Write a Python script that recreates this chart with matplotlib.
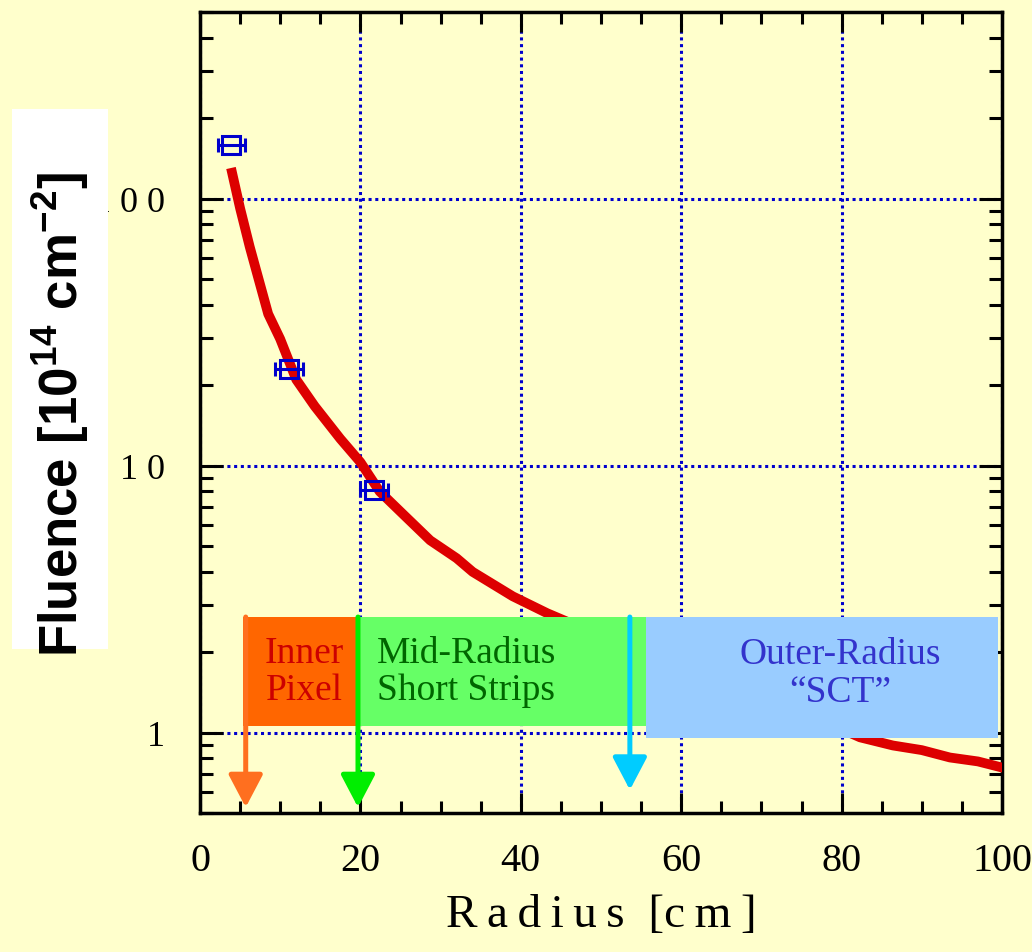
import matplotlib
matplotlib.use('Agg')
import matplotlib.pyplot as plt
from matplotlib.patches import Rectangle
from matplotlib.ticker import FixedLocator, LogLocator, MultipleLocator, NullFormatter, FixedFormatter

plt.rcParams['mathtext.fontset'] = 'custom'
plt.rcParams['mathtext.rm'] = 'Liberation Sans:bold'
plt.rcParams['mathtext.default'] = 'rm'

# fluence vs radius curve
radius = [4.0, 5.0, 6.2, 8.5, 10.0, 12.0, 14.3, 17.5, 20.0, 22.4, 25.5, 28.7, 32.0, 34.0,
          36.5, 39.0, 43.3, 50.0, 60.0, 70.0, 80.0, 82.3, 86.4, 90.0, 93.5, 97.0, 100.0]
fluence = [125, 92, 66, 37, 29.8, 21, 16.7, 12.6, 10.3, 8.0, 6.5, 5.25, 4.5, 4.0,
           3.6, 3.24, 2.8, 2.3, 1.7, 1.3, 1.03, 0.96, 0.895, 0.86, 0.807, 0.78, 0.74]

# measured points with radial error
meas_r = [3.9, 11.1, 21.7]
meas_f = [159, 23, 8.07]
meas_rerr = [1.7, 1.7, 1.7]

# detector regions
region_label = ['Inner\nPixel', 'Mid-Radius\nShort Strips', 'Outer-Radius\n\u201cSCT\u201d']
region_start = [5.4, 19.5, 55.6]
region_end = [19.5, 55.6, 99.5]
region_top = [2.71, 2.71, 2.71]
region_bottom = [1.06, 1.06, 0.957]
region_color = ['#ff6600', '#66ff66', '#99ccff']
region_textcolor = ['#cc0000', '#006600', '#3333cc']

# arrows marking layer radii
arrow_r = [5.7, 19.7, 53.6]
arrow_top = [2.71, 2.71, 2.71]
arrow_tip = [0.525, 0.525, 0.61]
arrow_color = ['#ff6f1f', '#00ee00', '#00ccff']

xticks = [0, 20, 40, 60, 80, 100]
yticks = [1, 10, 100]
yticklabels = ['1', '1 0', '1 0 0']

bg = '#ffffcc'
serif = ['Liberation Serif', 'DejaVu Serif']
fig = plt.figure(figsize=(10.32, 9.53), dpi=100, facecolor=bg)
ax = fig.add_axes([200/1032., 139/953., 802/1032., 801/953.], facecolor=bg)

ax.plot(radius, fluence, color='#dd0000', lw=7, zorder=3)
ax.errorbar(meas_r, meas_f, xerr=meas_rerr, fmt='s', mfc='none', mec='#0000cc',
            ms=13, mew=2.2, ecolor='#0000cc', elinewidth=2.2, capsize=5, capthick=2.2, zorder=4)

# region boxes + labels
for lab, x0, x1, yt, yb, fc, tc in zip(region_label, region_start, region_end, region_top,
                                       region_bottom, region_color, region_textcolor):
    ax.add_patch(Rectangle((x0, yb), x1 - x0, yt - yb, fc=fc, ec='none', zorder=5))
    ymid = (yt * yb) ** 0.5
    if lab.startswith('Mid'):
        ax.text(x0 + 2.6, ymid, lab, ha='left', va='center', color=tc, fontsize=27,
                family=serif, linespacing=1.1, zorder=7)
    elif lab.startswith('Outer'):
        ax.text((x0 + x1) / 2 + 2.3, ymid * 1.04, lab, ha='center', va='center', color=tc,
                fontsize=27, family=serif, linespacing=1.1, zorder=7)
    else:
        ax.text((x0 + x1) / 2 + 0.6, ymid, lab, ha='center', va='center', color=tc, fontsize=27,
                family=serif, linespacing=1.1, zorder=7)

for r, yt, yb, c in zip(arrow_r, arrow_top, arrow_tip, arrow_color):
    ax.annotate('', xy=(r, yb), xytext=(r, yt),
                arrowprops=dict(arrowstyle='-|>,head_length=2.0,head_width=1.05', color=c,
                                lw=3.6, shrinkA=0, shrinkB=0, mutation_scale=10), zorder=6)

ax.set_yscale('log')
ax.set_xlim(0, 100)
ax.set_ylim(0.5, 500)

ax.xaxis.set_major_locator(FixedLocator(xticks))
ax.xaxis.set_minor_locator(MultipleLocator(5))
ax.set_xticklabels([str(t) for t in xticks])
ax.yaxis.set_major_locator(FixedLocator(yticks))
ax.yaxis.set_major_formatter(FixedFormatter(yticklabels))
ax.yaxis.set_minor_locator(LogLocator(base=10, subs=range(2, 10)))
ax.yaxis.set_minor_formatter(NullFormatter())

ax.tick_params(axis='both', which='both', direction='in', top=True, right=True, width=2.2, color='black')
ax.tick_params(axis='x', which='major', length=14.4, pad=21, labelsize=29)
ax.tick_params(axis='x', which='minor', length=8.6)
ax.tick_params(axis='y', which='major', length=16.5, pad=25, labelsize=26)
ax.tick_params(axis='y', which='minor', length=9.4)
for lab in ax.get_xticklabels() + ax.get_yticklabels():
    lab.set_family(serif)

for s in ax.spines.values():
    s.set_linewidth(2.5)

ax.grid(True, which='major', color='#0000cc', linestyle=(0, (1, 1.2)), lw=2.2)

ax.set_xlabel('R\u2009a\u2009d\u2009i\u2009u\u2009s  [c\u2009m\u2009]', fontsize=34, family=serif, labelpad=10)

# y label sits on a white patch that hides part of the "100" tick label
fig.add_artist(Rectangle((12/1032., 303/953.), 96/1032., 540/953., transform=fig.transFigure,
                         fc='white', ec='none', zorder=5))
fig.text(60/1032., 538/953., 'Fluence [10$^{14}$ cm$^{-2}$]', rotation=90, ha='center', va='center',
         fontsize=38, fontweight='bold', family='Liberation Sans', zorder=6)

fig.savefig('out.png', dpi=100, facecolor=bg)
